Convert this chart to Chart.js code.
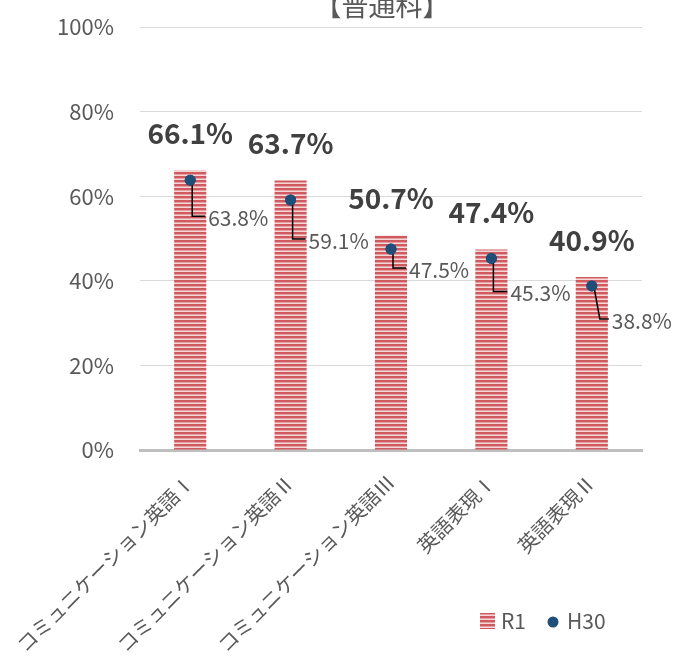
<!DOCTYPE html>
<html>
<head>
<meta charset="utf-8">
<script src="https://cdn.jsdelivr.net/npm/chart.js@4"></script>
<style>
  body { margin: 0; background: #fff; }
  #wrap { width: 679px; height: 656px; }
</style>
</head>
<body>
<div id="wrap"><canvas id="chart" width="679" height="656"></canvas></div>
<script>
// --- Data ---
const categories = ["コミュニケーション英語Ⅰ", "コミュニケーション英語Ⅱ", "コミュニケーション英語Ⅲ", "英語表現Ⅰ", "英語表現Ⅱ"];
const r1Values   = [66.1, 63.7, 50.7, 47.4, 40.9];
const h30Values  = [63.8, 59.1, 47.5, 45.3, 38.8];
const yTicks     = [0, 20, 40, 60, 80, 100];
const titleText  = "【普通科】";

// label placement for H30 values (dx, dy from the point)
const h30LabelOffsets = [[18, 38], [18, 41], [18, 21], [19, 35], [20, 35]];

const FONT = "'Noto Sans CJK JP', 'Noto Sans', sans-serif";
const GREY = "#595959";

// --- Stripe pattern for bars ---
function stripePattern() {
  const c = document.createElement("canvas");
  c.width = 4; c.height = 4;
  const g = c.getContext("2d");
  g.fillStyle = "#f6d7d7"; g.fillRect(0, 0, 4, 4);
  g.fillStyle = "#cf5a5f"; g.fillRect(0, 0, 4, 2);
  g.fillStyle = "#e6a0a2"; g.fillRect(0, 2, 4, 1);
  return g.createPattern(c, "repeat");
}
const barFill = stripePattern();

// --- Labels, leaders, title, legend ---
const decorPlugin = {
  id: "decor",
  afterDatasetsDraw(chart) {
    const ctx = chart.ctx;
    const barMeta = chart.getDatasetMeta(0);
    const ptMeta  = chart.getDatasetMeta(1);
    ctx.save();

    // R1 labels above bars
    ctx.font = "bold 28px " + FONT;
    ctx.fillStyle = "#404040";
    ctx.textAlign = "center";
    ctx.textBaseline = "middle";
    barMeta.data.forEach((bar, i) => {
      ctx.fillText(r1Values[i].toFixed(1) + "%", bar.x, bar.y - 37);
    });

    // H30 leader lines + labels
    ctx.font = "21px " + FONT;
    ctx.fillStyle = GREY;
    ctx.textAlign = "left";
    ptMeta.data.forEach((pt, i) => {
      const [dx, dy] = h30LabelOffsets[i];
      const lx = pt.x + dx, ly = pt.y + dy;
      ctx.strokeStyle = "#000";
      ctx.lineWidth = 1.5;
      ctx.beginPath();
      ctx.moveTo(pt.x + 2, pt.y);
      if (i === 4) ctx.lineTo(pt.x + 8, ly - 2);
      else ctx.lineTo(pt.x + 2, ly - 2);
      ctx.lineTo(lx - 3, ly - 2);
      ctx.stroke();
      ctx.fillText(h30Values[i].toFixed(1) + "%", lx, ly);
    });

    // redraw points on top of leaders
    ctx.fillStyle = "#1f4e79";
    ptMeta.data.forEach(pt => {
      ctx.beginPath();
      ctx.arc(pt.x, pt.y, 5.5, 0, Math.PI * 2);
      ctx.fill();
    });

    // title (cut at the top edge like the source)
    ctx.font = "27px " + FONT;
    ctx.fillStyle = GREY;
    ctx.textAlign = "center";
    ctx.textBaseline = "alphabetic";
    ctx.fillText(titleText, 382, 16);

    // legend
    ctx.fillStyle = barFill;
    ctx.fillRect(480, 613, 15, 16);
    ctx.fillStyle = GREY;
    ctx.font = "21px " + FONT;
    ctx.textAlign = "left";
    ctx.textBaseline = "middle";
    ctx.fillText("R1", 501, 621);
    ctx.fillStyle = "#1f4e79";
    ctx.beginPath();
    ctx.arc(553, 622, 5.5, 0, Math.PI * 2);
    ctx.fill();
    ctx.fillStyle = GREY;
    ctx.fillText("H30", 567, 621);
    ctx.restore();
  }
};

// --- Chart ---
new Chart(document.getElementById("chart"), {
  type: "bar",
  data: {
    labels: categories,
    datasets: [
      {
        label: "R1",
        data: r1Values,
        backgroundColor: barFill,
        categoryPercentage: 0.32,
        barPercentage: 1,
        order: 2
      },
      {
        type: "line",
        label: "H30",
        data: h30Values,
        showLine: false,
        pointRadius: 5.5,
        pointBackgroundColor: "#1f4e79",
        pointBorderWidth: 0,
        order: 1
      }
    ]
  },
  options: {
    responsive: false,
    animation: false,
    layout: { padding: { top: 27, right: 37, left: 0, bottom: 0 } },
    plugins: {
      legend: { display: false },
      tooltip: { enabled: false }
    },
    scales: {
      x: {
        grid: { display: false, drawTicks: false },
        border: { display: true, color: "#bfbfbf", width: 3 },
        ticks: {
          font: { family: FONT, size: 20 },
          color: GREY,
          minRotation: 45,
          maxRotation: 45,
          padding: 20
        },
        afterFit(scale) {
          scale.height = 206;
          scale.paddingLeft = 0;
          scale.paddingRight = 0;
        }
      },
      y: {
        min: 0,
        max: 100,
        afterBuildTicks(scale) { scale.ticks = yTicks.map(v => ({ value: v })); },
        grid: { color: "#d9d9d9", lineWidth: 1, drawTicks: false },
        border: { display: false },
        ticks: {
          font: { family: FONT, size: 22 },
          color: GREY,
          padding: 26,
          callback: v => v + "%"
        },
        afterFit(scale) {
          scale.width = 140;
          scale.paddingTop = 0;
          scale.paddingBottom = 0;
        }
      }
    }
  },
  plugins: [decorPlugin]
});
</script>
</body>
</html>
